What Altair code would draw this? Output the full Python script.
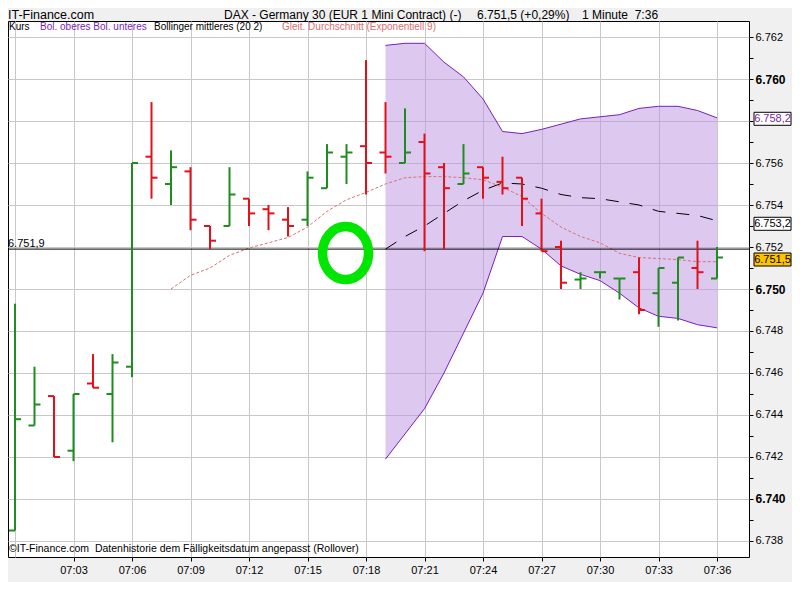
import json
import altair as alt
import pandas as pd

# ---------------- data ----------------
minutes = list(range(37))  # 07:00 .. 07:36
opens = [6738.5, 6743.5, 6744.9, 6742.3, 6745.5, 6745.0, 6746.3, 6756.3, 6755.0, 6755.6,
         6753.0, 6753.0, 6754.3, 6753.8, 6753.3, 6753.3, 6754.8, 6756.3, 6756.8, 6756.5,
         6756.0, 6757.0, 6755.8, 6755.0, 6755.8, 6755.1, 6755.3, 6753.6, 6752.0, 6750.45,
         6750.8, 6750.5, 6750.8, 6749.8, 6750.3, 6751.0, 6750.5]
highs = [6749.3, 6746.3, 6744.9, 6745.0, 6746.9, 6746.9, 6756.0, 6758.9, 6756.6, 6755.8,
         6753.0, 6755.8, 6754.3, 6754.0, 6753.9, 6755.6, 6756.9, 6756.9, 6760.9, 6758.9,
         6758.6, 6757.4, 6756.0, 6756.9, 6755.8, 6756.3, 6755.3, 6754.3, 6752.3, 6750.8,
         6750.8, 6750.5, 6751.5, 6751.0, 6751.5, 6752.3, 6752.0]
lows = [6738.5, 6743.5, 6742.0, 6741.8, 6745.3, 6742.7, 6745.8, 6754.3, 6754.0, 6752.8,
        6751.9, 6753.0, 6753.0, 6752.8, 6752.5, 6753.0, 6754.8, 6755.0, 6754.5, 6755.5,
        6756.0, 6751.8, 6751.9, 6755.0, 6754.3, 6754.5, 6753.0, 6751.8, 6750.0, 6750.0,
        6750.5, 6749.5, 6748.8, 6748.2, 6748.5, 6750.0, 6750.5]
closes = [6743.8, 6744.5, 6742.0, 6745.0, 6745.3, 6746.5, 6756.0, 6755.3, 6755.8, 6753.3,
          6752.3, 6754.5, 6753.6, 6753.6, 6753.0, 6755.3, 6756.5, 6756.5, 6756.0, 6756.3,
          6756.5, 6755.5, 6754.8, 6755.5, 6755.3, 6754.8, 6754.3, 6751.8, 6750.3, 6750.5,
          6750.8, 6750.5, 6749.0, 6751.0, 6751.5, 6750.8, 6751.5]

band_minutes = list(range(19, 37))
boll_upper = [6761.6, 6761.7, 6761.7, 6760.8, 6760.1, 6759.05, 6757.5, 6757.4, 6757.6, 6757.85,
              6758.1, 6758.2, 6758.3, 6758.6, 6758.7, 6758.7, 6758.5, 6758.15]
boll_lower = [6741.9, 6743.1, 6744.3, 6746.0, 6747.9, 6749.8, 6752.5, 6752.5, 6751.9, 6751.1,
              6750.7, 6750.4, 6749.8, 6749.1, 6748.7, 6748.6, 6748.3, 6748.15]
boll_middle = [6751.9, 6752.5, 6753.0, 6753.6, 6754.2, 6754.7, 6755.05, 6755.0, 6754.8, 6754.5,
               6754.35, 6754.3, 6754.15, 6754.0, 6753.7, 6753.6, 6753.5, 6753.25]

ema_minutes = list(range(8, 37))
ema_values = [6750.0, 6750.65, 6751.0, 6751.6, 6751.95, 6752.2, 6752.45, 6752.95, 6753.7, 6754.25,
              6754.6, 6755.0, 6755.3, 6755.35, 6755.35, 6755.3, 6755.2, 6754.85, 6754.4, 6753.6,
              6752.95, 6752.5, 6752.2, 6751.7, 6751.5, 6751.45, 6751.4, 6751.3, 6751.3]

x_tick_values = list(range(0, 37, 3))
x_tick_labels = ["", "07:03", "07:06", "07:09", "07:12", "07:15", "07:18",
                 "07:21", "07:24", "07:27", "07:30", "07:33", "07:36"]
y_tick_values = list(range(6738, 6763))

ref_line = [6751.9]
ref_label = ["6.751,9"]

marker_labels = ["6.758,2", "6.753,2", "6.751,5"]
marker_values = [6758.2, 6753.2, 6751.5]
marker_fills = ["#ffffff", "#ffffff", "#ffc400"]
marker_text_colors = ["#7a1fa2", "#000000", "#000000"]

circle_x = [16.95]
circle_y = [6751.71]

title_left = ["IT-Finance.com"]
title_parts = ["DAX - Germany 30 (EUR 1 Mini Contract) (-)", "6.751,5 (+0,29%)", "1 Minute\u00a0\u00a07:36"]
legend_parts = ["Kurs", "Bol. oberes Bol. unteres", "Bollinger mittleres (20 2)",
                "Gleit. Durchschnitt (Exponentiell 9)"]
footer = ["\u00a9IT-Finance.com\u00a0\u00a0Datenhistorie dem F\u00e4lligkeitsdatum angepasst (Rollover)"]

# ---------------- styling ----------------
SANS = "Liberation Sans, Arial, sans-serif"
GREEN = "#1f8c1f"
RED = "#e3101a"
PURPLE = "#7a1fb8"

W, H = 741, 536
xs = alt.Scale(domain=[-0.359, 37.641], nice=False, zero=False)
ys = alt.Scale(domain=[6737.238, 6762.762], nice=False, zero=False)

ohlc = pd.DataFrame({"t": minutes, "o": opens, "h": highs, "l": lows, "c": closes})
ohlc["col"] = [GREEN if c >= o else RED for o, c in zip(opens, closes)]
band = pd.DataFrame({"t": band_minutes, "up": boll_upper, "lo": boll_lower, "mid": boll_middle})
ema = pd.DataFrame({"t": ema_minutes, "v": ema_values})
refdf = pd.DataFrame({"v": ref_line, "label": ref_label})
markers = pd.DataFrame({"v": marker_values, "label": marker_labels,
                        "fill": marker_fills, "tc": marker_text_colors})
markers["b0"] = markers["v"] - 0.31
markers["b1"] = markers["v"] + 0.31
circ = pd.DataFrame({"x": circle_x, "y": circle_y})

# axis labels hidden where a value marker box covers them
covered = sorted({round(v) for v in marker_values if abs(round(v) - v) < 0.35})

x_axis = alt.Axis(
    values=x_tick_values,
    labelExpr=json.dumps(x_tick_labels) + "[round(datum.value / 3)]",
    grid=True, gridColor="#c8c8c8", gridWidth=1, domain=False,
    ticks=True, tickSize=4, tickColor="#000000",
    tickOpacity={"condition": {"test": "datum.value === 0", "value": 0}, "value": 1},
    labelFont=SANS, labelFontSize=11, labelColor="#000000", labelPadding=3,
    labelFlush=False, labelOverlap=False, title=None,
)
y_axis = alt.Axis(
    orient="right", values=y_tick_values,
    labelExpr=("(datum.value % 2 === 0 && indexof(" + json.dumps(covered) + ", datum.value) < 0)"
               " ? '6.' + format(datum.value - 6000, 'd') : ''"),
    grid=True, gridColor="#c8c8c8",
    gridOpacity={"condition": {"test": "datum.value % 2 === 0", "value": 1}, "value": 0},
    domain=False, tickSize=4, tickColor="#000000",
    labelFont=SANS,
    labelFontSize={"condition": {"test": "datum.value % 10 === 0", "value": 12}, "value": 11},
    labelFontWeight={"condition": {"test": "datum.value % 10 === 0", "value": "bold"}, "value": "normal"},
    labelColor="#000000", labelPadding=2, labelOverlap=False, title=None,
)


def X(f):
    return alt.X(f, type="quantitative", scale=xs, axis=x_axis)


def Y(f):
    return alt.Y(f, type="quantitative", scale=ys, axis=y_axis)


# bands
area = alt.Chart(band).mark_area(color="#bb92e2", opacity=0.5).encode(x=X("t"), y=Y("up"), y2="lo")
up_line = alt.Chart(band).mark_line(color=PURPLE, strokeWidth=1).encode(x=X("t"), y=Y("up"))
lo_line = alt.Chart(band).mark_line(color=PURPLE, strokeWidth=1).encode(x=X("t"), y=Y("lo"))
mid_line = alt.Chart(band).mark_line(color="#000000", strokeWidth=1, strokeDash=[13, 11]).encode(
    x=X("t"), y=Y("mid"))
ema_line = alt.Chart(ema).mark_line(color="#d97070", strokeWidth=1, strokeDash=[3, 2]).encode(
    x=X("t"), y=Y("v"))

ref_rule = alt.Chart(refdf).mark_rule(color="#000000", strokeWidth=1).encode(
    y=Y("v"), x=alt.value(0), x2=alt.value(W))
ref_text = alt.Chart(refdf).mark_text(align="left", baseline="alphabetic", dy=-2, font=SANS,
                                      fontSize=11, color="#000000").encode(
    y=Y("v"), x=alt.value(0), text="label:N")

# OHLC bars
hl = alt.Chart(ohlc).mark_rule(strokeWidth=2).encode(
    x=X("t"), y=Y("l"), y2="h", color=alt.Color("col:N", scale=None))
open_tick = alt.Chart(ohlc).mark_rule(strokeWidth=2, xOffset=-6, x2Offset=0).encode(
    x=X("t"), x2="t", y=Y("o"), color=alt.Color("col:N", scale=None))
close_tick = alt.Chart(ohlc).mark_rule(strokeWidth=2, xOffset=0, x2Offset=6).encode(
    x=X("t"), x2="t", y=Y("c"), color=alt.Color("col:N", scale=None))

# green hand-drawn circle
ring = alt.Chart(circ).mark_point(
    shape="M0,-1.06 A0.92,1.06 0 1,1 0,1.06 A0.92,1.06 0 1,1 0,-1.06 Z",
    size=2500, filled=False, strokeWidth=9.5, color="#00e600", opacity=1,
).encode(x=X("x"), y=Y("y"))

# right value markers
mk_rect = alt.Chart(markers).mark_rect(stroke="#000000", strokeWidth=1, yOffset=2, y2Offset=2).encode(
    x=alt.value(746), x2=alt.value(783), y=Y("b0"), y2="b1", fill=alt.Fill("fill:N", scale=None))
mk_text = alt.Chart(markers).mark_text(align="center", baseline="middle", font=SANS, fontSize=11,
                                       dy=2).encode(
    x=alt.value(764.5), y=Y("v"), text="label:N", color=alt.Color("tc:N", scale=None))


def txt(label, x, y, size, color="#000000"):
    return alt.Chart(pd.DataFrame({"label": [label]})).mark_text(
        align="left", baseline="middle", font=SANS, fontSize=size, color=color
    ).encode(x=alt.value(x), y=alt.value(y), text="label:N")


texts = [
    txt(title_left[0], 0, -6, 12.5),
    txt(title_parts[0], 216, -6, 12),
    txt(title_parts[1], 469, -6, 12),
    txt(title_parts[2], 574, -6, 12),
    txt(legend_parts[0], 1, 6, 10),
    txt(legend_parts[1], 32, 6, 10, PURPLE),
    txt(legend_parts[2], 146, 6, 10),
    txt(legend_parts[3], 274, 6, 10, "#d97070"),
    txt(footer[0], 1, 528, 10.5),
]

chart = alt.layer(
    area, up_line, lo_line, mid_line, ema_line, ref_rule, ref_text,
    hl, open_tick, close_tick, ring, mk_rect, mk_text, *texts
).properties(
    width=W, height=H,
    autosize=alt.AutoSizeParams(type="none"),
    padding={"left": 0, "top": 13, "right": 43, "bottom": 25},
    background="#f0f0f0",
).configure_view(fill="#ffffff", stroke="#000000", strokeWidth=1)

chart.save("out.html", embed_options={"renderer": "svg", "actions": False})
